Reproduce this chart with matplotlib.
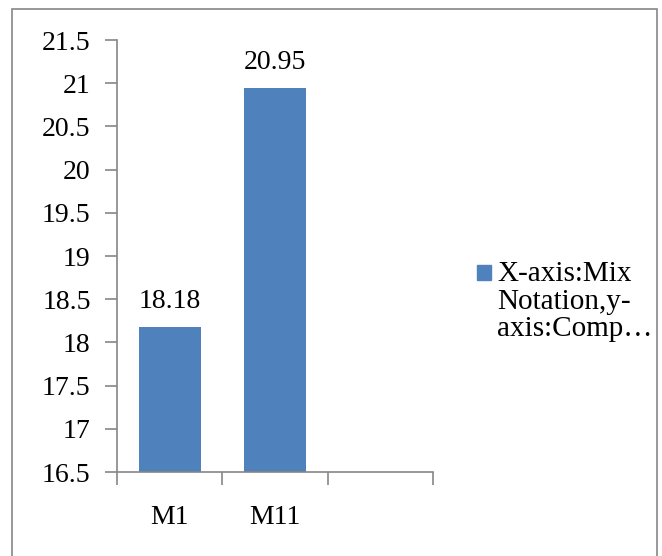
import matplotlib.pyplot as plt
from matplotlib.patches import Rectangle

categories = ["M1", "M11", ""]
values = [18.18, 20.95]
series_name = "X-axis:Mix\nNotation,y-\naxis:Comp\u2026"
y_ticks = [16.5, 17, 17.5, 18, 18.5, 19, 19.5, 20, 20.5, 21, 21.5]

plt.rcParams['font.family'] = ['Liberation Serif', 'DejaVu Serif']
W, H = 662, 556
bar_color = '#4F81BD'
grey = '#868686'
fs = 20

fig = plt.figure(figsize=(W / 100, H / 100), dpi=100)
ax = fig.add_axes([117 / W, 1 - 472 / H, (433 - 117) / W, (472 - 40) / H])

x = list(range(len(values)))
bars = ax.bar(x, values, width=0.59, color=bar_color)
ax.set_xlim(-0.5, len(categories) - 0.5)
ax.set_ylim(y_ticks[0], y_ticks[-1])
ax.set_yticks(y_ticks)
ax.set_yticklabels(["%g" % t for t in y_ticks])

ax.set_xticks(range(len(categories)))
ax.set_xticklabels(categories)
ax.set_xticks([i - 0.5 for i in range(len(categories) + 1)], minor=True)
ax.tick_params(axis='x', which='major', length=0, pad=24, labelsize=fs)
ax.tick_params(axis='x', which='minor', length=9, width=1.2, color=grey, direction='out')
ax.tick_params(axis='y', length=9, width=1.2, color=grey, direction='out', pad=10, labelsize=fs)

for s in ['top', 'right']:
    ax.spines[s].set_visible(False)
for s in ['left', 'bottom']:
    ax.spines[s].set_color(grey)
    ax.spines[s].set_linewidth(1.2)

for xi, v in zip(x, values):
    ax.annotate("%.2f" % v, (xi, v), xytext=(0, 9), textcoords='offset points',
                ha='center', va='bottom', fontsize=fs)

# legend drawn by hand, Excel style
fig.patches.append(Rectangle((477 / W, 1 - 280 / H), 14 / W, 15 / H,
                             transform=fig.transFigure, color=bar_color))
fig.text(497 / W, 1 - 261 / H, series_name, fontsize=21, va='top', ha='left',
         linespacing=1.08)

# outer chart border
fig.patches.append(Rectangle((12 / W, -0.05), (657 - 12) / W, 1 - 9 / H + 0.05,
                             transform=fig.transFigure, fill=False,
                             edgecolor=grey, linewidth=1.2))

fig.savefig("out.png", dpi=100)
